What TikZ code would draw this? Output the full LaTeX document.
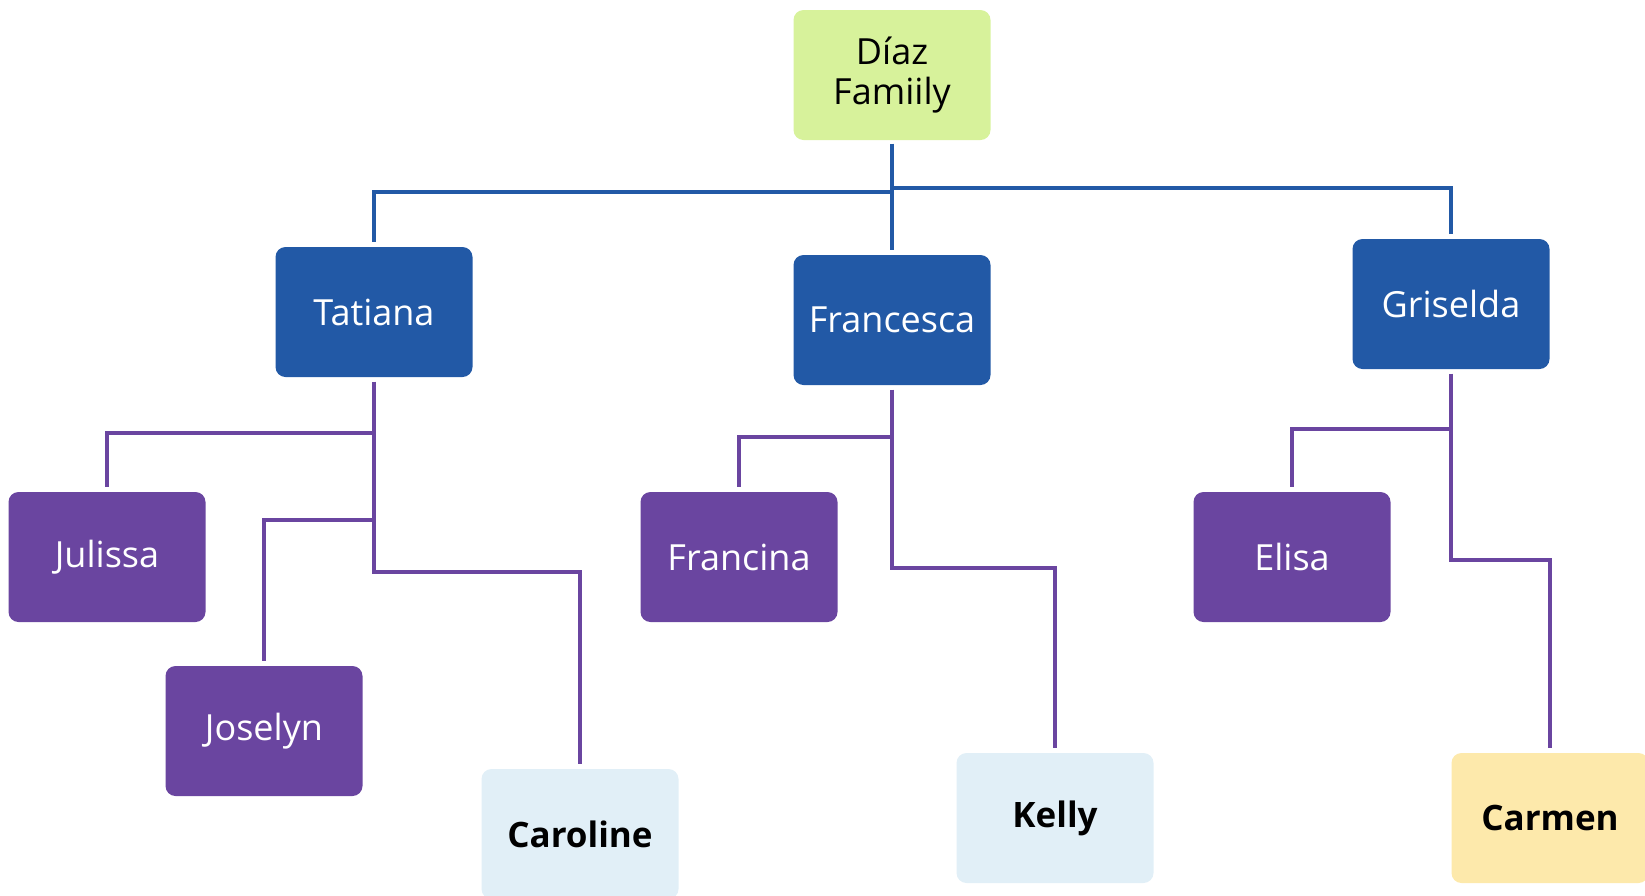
\documentclass[tikz,border=0pt]{standalone}
\usepackage{fontspec}
\setmainfont{Open Sans}
\usepackage{tikz}
\usetikzlibrary{positioning}
\definecolor{rootgreen}{RGB}{215,242,155}
\definecolor{kidblue}{RGB}{34,89,166}
\definecolor{kidpurple}{RGB}{106,69,160}
\definecolor{paleblue}{RGB}{225,239,247}
\definecolor{paleyellow}{RGB}{253,233,171}
\newcommand\W{98.5pt}

\begin{document}
\begin{tikzpicture}[x=0.5pt,y=-0.5pt,semithick]

  \tikzstyle{box}=[rectangle,rounded corners=5pt,minimum width=\W,minimum height=65pt,
                   align=center,inner sep=0pt,font=\fontsize{18}{20}\selectfont]
  \tikzstyle{root}=[box,fill=rootgreen,text=black]
  \tikzstyle{daughter}=[box,fill=kidblue,text=white]
  \tikzstyle{grandkid}=[box,fill=kidpurple,text=white]
  \tikzstyle{leafblue}=[box,fill=paleblue,text=black,font=\fontsize{17.5}{20}\selectfont\bfseries]
  \tikzstyle{leafyellow}=[box,fill=paleyellow,text=black,font=\fontsize{17.5}{20}\selectfont\bfseries]
  \tikzstyle{bline}=[draw=kidblue,line width=2pt,shorten <=1.5pt,shorten >=2pt]
  \tikzstyle{pline}=[draw=kidpurple,line width=1.75pt,shorten <=2pt,shorten >=2pt]

  \useasboundingbox (0,0) rectangle (1645,895);

  \node[root]       (DIAZ) at (892,75)   {Díaz\\Famiily};
  \node[daughter]   (TAT)  at (374,312)  {Tatiana};
  \node[daughter]   (FRA)  at (892,320)  {Francesca};
  \node[daughter]   (GRI)  at (1451,304) {Griselda};
  \node[grandkid]   (JUL)  at (107,557)  {Julissa};
  \node[grandkid]   (JOS)  at (264,731)  {Joselyn};
  \node[leafblue]   (CAR)  at (580,834)  {Caroline};
  \node[grandkid]   (FCN)  at (739,557)  {Francina};
  \node[leafblue]   (KEL)  at (1055,818) {Kelly};
  \node[grandkid]   (ELI)  at (1292,557) {Elisa};
  \node[leafyellow] (CRM)  at (1550,818) {Carmen};

  % family -> daughters
  \draw[bline] (DIAZ.south) -- (FRA.north);
  \draw[bline,shorten <=0pt] (DIAZ.south |- 0,188) -| (GRI.north);
  \draw[bline,shorten <=0pt] (DIAZ.south |- 0,192) -| (TAT.north);

  % Tatiana
  \draw[pline] (TAT.south) -- (TAT.south |- 0,572) -| (CAR.north);
  \draw[pline,shorten <=0pt] (TAT.south |- 0,433) -| (JUL.north);
  \draw[pline,shorten <=0pt] (TAT.south |- 0,520) -| (JOS.north);

  % Francesca
  \draw[pline] (FRA.south) -- (FRA.south |- 0,568) -| (KEL.north);
  \draw[pline,shorten <=0pt] (FRA.south |- 0,437) -| (FCN.north);

  % Griselda
  \draw[pline] (GRI.south) -- (GRI.south |- 0,560) -| (CRM.north);
  \draw[pline,shorten <=0pt] (GRI.south |- 0,429) -| (ELI.north);
\end{tikzpicture}
\end{document}
